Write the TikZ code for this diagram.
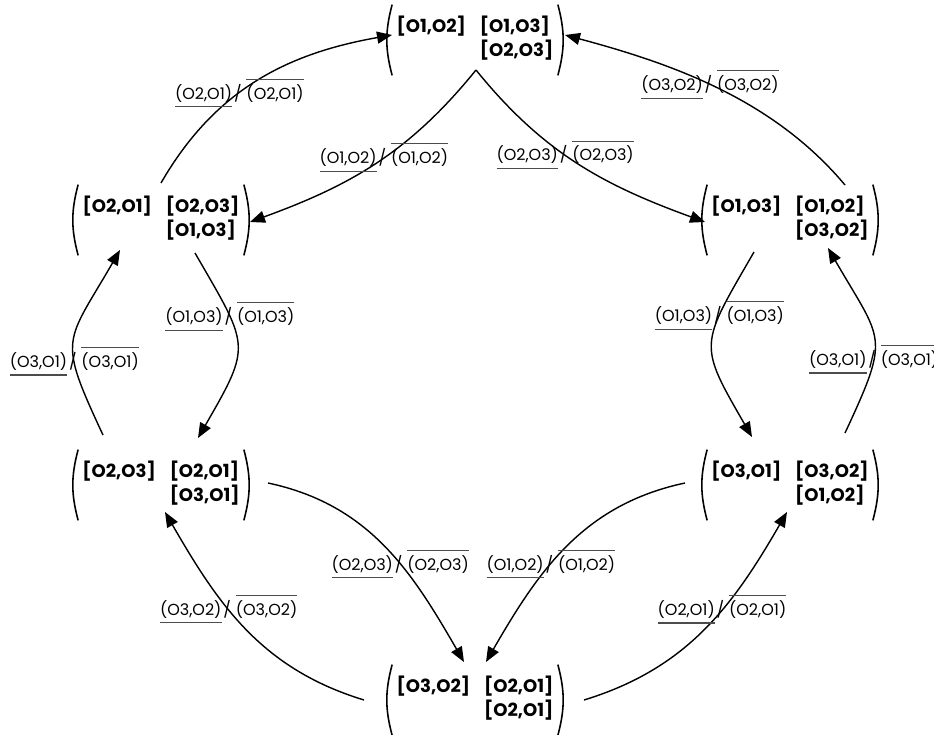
\documentclass[tikz,border=0pt]{standalone}
\usepackage{fontspec}
\setmainfont{Poppins}
\usepackage{xcolor}
\usetikzlibrary{arrows.meta}
\usetikzlibrary{positioning}

\newcommand{\statetab}[3]{\raisebox{0.06cm}{\begin{tabular}{@{}l@{\hspace{0.28cm}}l@{}}#1 & #2\\ & #3\end{tabular}}}
\newcommand{\ulbl}[1]{\setbox0=\hbox{#1}\rlap{\raisebox{-4.5pt}[0pt][0pt]{\color{black!70}\rule{\wd0}{0.6pt}}}\box0}
\newcommand{\olbl}[1]{\setbox0=\hbox{#1}\rlap{\raisebox{11pt}[0pt][0pt]{\color{black!70}\rule{\wd0}{0.6pt}}}\box0}
\newcommand{\trans}[2]{\ulbl{(#1,#2)}\hspace{0.12em}/\hspace{0.3em}\olbl{(#1,#2)}}

\tikzset{
  paren/.style={draw, line width=0.9pt, -},
  mstate/.style={rectangle, minimum width=3.5cm, minimum height=1.4cm, inner sep=0pt,
    font=\fontsize{10.3}{13.6}\selectfont\bfseries,
    append after command={
      ([xshift=0.1cm]\tikzlastnode.north west) edge[paren, bend right=15] ([xshift=0.1cm]\tikzlastnode.south west)
      ([xshift=-0.1cm]\tikzlastnode.north east) edge[paren, bend left=15] ([xshift=-0.1cm]\tikzlastnode.south east)}},
  tlabel/.style={font=\fontsize{9.1}{11}\selectfont, inner sep=0pt},
  trans/.style={line width=0.8pt, -{Triangle[length=0.3cm,width=0.24cm]}},
}

\begin{document}
\begin{tikzpicture}[on grid]
    \useasboundingbox (-9.5,0.8) rectangle (9.18,-13.9);

    \node[mstate] (T) {\statetab{[O1,O2]}{[O1,O3]}{[O2,O3]}};
    \node[mstate, below left=3.6cm and 6.28cm of T] (LT) {\statetab{[O2,O1]}{[O2,O3]}{[O1,O3]}};
    \node[mstate, below right=3.6cm and 6.3cm of T] (RT) {\statetab{[O1,O3]}{[O1,O2]}{[O3,O2]}};
    \node[mstate, below=5.3cm of LT] (LB) {\statetab{[O2,O3]}{[O2,O1]}{[O3,O1]}};
    \node[mstate, below=5.3cm of RT] (RB) {\statetab{[O3,O1]}{[O3,O2]}{[O1,O2]}};
    \node[mstate, below=13.2cm of T] (B) {\statetab{[O3,O2]}{[O2,O1]}{[O2,O1]}};

    \draw
        ([shift={(0,0.74)}]LT.center) edge[trans, out=60, in=190] node[tlabel, pos=0.42] {\trans{O2}{O1}} ([shift={(-1.66,0.1)}]T.center)
        ([shift={(0.02,-0.6)}]T.center) edge[trans, out=-129, in=20] node[tlabel, pos=0.46] {\trans{O1}{O2}} ([shift={(1.78,-0.04)}]LT.center)
        ([shift={(0.02,-0.6)}]T.center) edge[trans, out=-51, in=160] node[tlabel, pos=0.44] {\trans{O2}{O3}} ([shift={(-1.7,-0.04)}]RT.center)
        ([shift={(1.1,0.7)}]RT.center) edge[trans, out=130, in=-15, looseness=0.9] node[tlabel, pos=0.53] {\trans{O3}{O2}} ([shift={(1.8,0.1)}]T.center)

        ([shift={(0.68,-0.66)}]LT.center) edge[trans, out=-60, in=60, looseness=1.5] node[tlabel, pos=0.3] {\trans{O1}{O3}} ([shift={(0.74,0.94)}]LB.center)
        ([shift={(-1.16,1.0)}]LB.center) edge[trans, out=115, in=-120, looseness=1.5] node[tlabel, pos=0.35] {\trans{O3}{O1}} ([shift={(-0.82,-0.6)}]LT.center)
        ([shift={(-0.72,-0.64)}]RT.center) edge[trans, out=-120, in=120, looseness=1.5] node[tlabel, pos=0.3] {\trans{O1}{O3}} ([shift={(-0.76,0.96)}]RB.center)
        ([shift={(1.1,1.04)}]RB.center) edge[trans, out=65, in=-60, looseness=1.5] node[tlabel, pos=0.35] {\trans{O3}{O1}} ([shift={(0.76,-0.56)}]RT.center)

        ([shift={(2.14,0.04)}]LB.center) edge[trans, out=-12, in=120] node[tlabel, pos=0.59] {\trans{O2}{O3}} ([shift={(-0.22,0.76)}]B.center)
        ([shift={(-2.22,0)}]B.center) edge[trans, out=163, in=-60] node[tlabel, pos=0.6] {\trans{O3}{O2}} ([shift={(0.08,-0.54)}]LB.center)
        ([shift={(-2.1,0.04)}]RB.center) edge[trans, out=192, in=60] node[tlabel, pos=0.59] {\trans{O1}{O2}} ([shift={(0.22,0.76)}]B.center)
        ([shift={(2.18,0)}]B.center) edge[trans, out=17, in=240] node[tlabel, pos=0.6] {\trans{O2}{O1}} ([shift={(-0.06,-0.54)}]RB.center)
        ;
\end{tikzpicture}
\end{document}
